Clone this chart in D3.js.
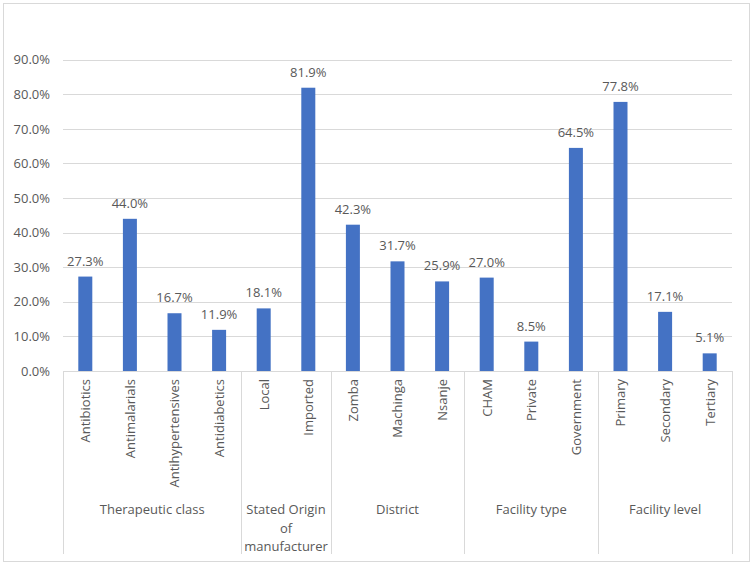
<!DOCTYPE html>
<html><head><meta charset="utf-8">
<script src="https://cdn.jsdelivr.net/npm/d3@7"></script>
<style>body{margin:0;background:#fff;}svg{display:block;}</style>
</head><body>
<svg id="c" width="753" height="566"></svg>
<script>
const categories = ["Antibiotics","Antimalarials","Antihypertensives","Antidiabetics","Local","Imported","Zomba","Machinga","Nsanje","CHAM","Private","Government","Primary","Secondary","Tertiary"];
const values = [27.3,44.0,16.7,11.9,18.1,81.9,42.3,31.7,25.9,27.0,8.5,64.5,77.8,17.1,5.1];
const groups = [["Therapeutic class"],["Stated Origin","of","manufacturer"],["District"],["Facility type"],["Facility level"]];
const groupSizes = [4,2,3,3,3];
const yTicks = [0,10,20,30,40,50,60,70,80,90];

(function(){
const svg = d3.select("#c");
const font = "'Open Sans', sans-serif";
const fs = 13;
svg.append("rect").attr("x",3.5).attr("y",3.5).attr("width",746).attr("height",558)
  .attr("fill","#fff").attr("stroke","#d9d9d9");
const pL=63,pR=732,pT=59.7,pB=371,axisBottom=554;
const x = d3.scaleBand().domain(categories).range([pL,pR]).padding(0);
const y = d3.scaleLinear().domain([0,90]).range([pB,pT]);

svg.append("g").selectAll("line").data(yTicks.filter(d=>d>0)).join("line")
  .attr("x1",pL).attr("x2",pR).attr("y1",d=>Math.round(y(d))+0.5).attr("y2",d=>Math.round(y(d))+0.5)
  .attr("stroke","#d9d9d9").attr("stroke-width",1);
const yAxis = d3.axisLeft(y).tickValues(yTicks).tickFormat(d=>d.toFixed(1)+"%").tickSize(0).tickPadding(13);
const ga = svg.append("g").attr("transform",`translate(${pL},0)`).call(yAxis);
ga.select(".domain").remove();
ga.selectAll("text").attr("font-family",font).attr("font-size",fs).attr("fill","#595959");

const bw=14;
svg.append("g").selectAll("rect").data(values).join("rect")
  .attr("x",(d,i)=>x(categories[i])+x.bandwidth()/2-bw/2).attr("width",bw)
  .attr("y",d=>y(d)).attr("height",d=>pB-y(d)).attr("fill","#4472C4");
svg.append("g").selectAll("text").data(values).join("text")
  .attr("x",(d,i)=>x(categories[i])+x.bandwidth()/2).attr("y",d=>y(d)-11)
  .attr("text-anchor","middle").attr("font-family",font).attr("font-size",fs).attr("fill","#595959")
  .text(d=>d.toFixed(1)+"%");

svg.append("line").attr("x1",pL).attr("x2",pR).attr("y1",pB+0.5).attr("y2",pB+0.5).attr("stroke","#d9d9d9");
let idx=0; const seps=[0];
groupSizes.forEach(s=>{idx+=s; seps.push(idx);});
const sx = d=>Math.round(d===categories.length?pR:x(categories[d]))+0.5;
svg.append("g").selectAll("line").data(seps).join("line")
  .attr("x1",sx).attr("x2",sx)
  .attr("y1",pB).attr("y2",axisBottom).attr("stroke","#d9d9d9");
svg.append("g").selectAll("text").data(categories).join("text")
  .attr("transform",d=>`translate(${x(d)+x.bandwidth()/2+4.8},${pB+8}) rotate(-90)`)
  .attr("text-anchor","end").attr("font-family",font).attr("font-size",fs).attr("fill","#595959")
  .text(d=>d);
let start=0;
groups.forEach((g,gi)=>{
  const s=start, e=start+groupSizes[gi];
  const x0=x(categories[s]), x1=e===categories.length?pR:x(categories[e]);
  const t=svg.append("text").attr("text-anchor","middle")
    .attr("font-family",font).attr("font-size",fs).attr("fill","#595959");
  g.forEach((line,li)=>t.append("tspan").attr("x",(x0+x1)/2).attr("y",514+li*18.5).text(line));
  start=e;
});
})();
</script>
</body></html>
